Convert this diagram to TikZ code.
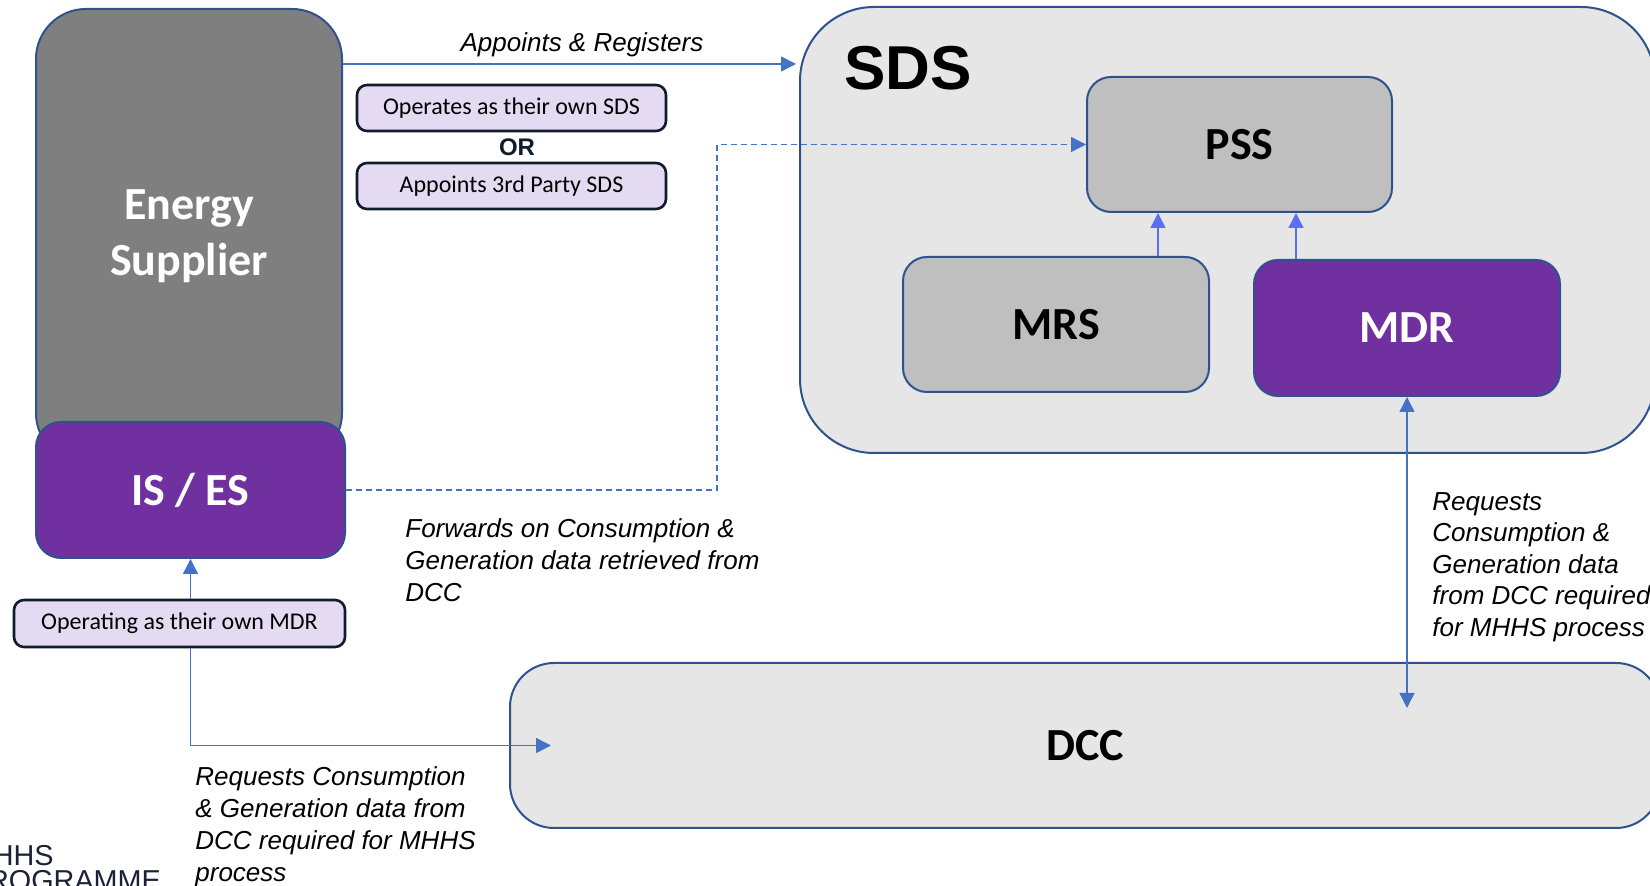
\documentclass[tikz,border=0pt]{standalone}
\usepackage{fontspec}
\setmainfont{Liberation Sans}
\newfontfamily\carlito{Carlito}
\usetikzlibrary{arrows.meta}
\definecolor{edgeblue}{HTML}{2F528F}
\definecolor{linkblue}{HTML}{4472C4}
\definecolor{innerblue}{HTML}{5B6EF5}
\definecolor{esgrey}{HTML}{7F7F7F}
\definecolor{mhhspurple}{HTML}{7030A0}
\definecolor{panelgrey}{HTML}{E6E6E6}
\definecolor{subgrey}{HTML}{BFBFBF}
\definecolor{lavender}{HTML}{E4DBF2}
\definecolor{navy}{HTML}{101B2D}
\definecolor{logonavy}{HTML}{1B2238}
\begin{document}
\begin{tikzpicture}[x=0.5pt,y=-0.5pt,>={Triangle[length=7.5pt,width=7.5pt]}]
		\tikzstyle{every node}+=[inner sep=0pt]
		\tikzstyle{bigbox}=[draw=edgeblue, line width=1pt, font=\carlito\bfseries\fontsize{23}{28}\selectfont, align=center]
		\tikzstyle{choice}=[draw=navy, line width=1.3pt, fill=lavender, rounded corners=5pt, minimum width=154.5pt, minimum height=23pt, font=\carlito\fontsize{12}{14}\selectfont]
		\tikzstyle{note}=[font=\itshape\fontsize{13}{16}\selectfont, align=left]
		\tikzstyle{link}=[draw=linkblue, line width=0.7pt, ->]
		\useasboundingbox (0,0) rectangle (1650,886);
		\fill [white] (0,0) rectangle (1650,886);
		\clip (0,0) rectangle (1650,886);
		% supplier side
		\node [bigbox, fill=esgrey, text=white, rounded corners=25pt, minimum width=153pt, minimum height=227pt] (supplier) at (189,236) {Energy\\Supplier};
		\node [bigbox, fill=mhhspurple, text=white, rounded corners=12.5pt, minimum width=154.5pt, minimum height=68pt] (isEs) at (190.5,490) {IS / ES};
		\node [choice] (ownSds) at (511.5,108) {Operates as their own SDS};
		\node [font=\bfseries\fontsize{12}{14}\selectfont, text=navy] (orText) at (517,147) {OR};
		\node [choice] (thirdSds) at (511.5,186) {Appoints 3rd Party SDS};
		\node [choice, minimum width=165.5pt, minimum height=23.5pt] (ownMdr) at (179.5,623.5) {Operating as their own MDR};
		% SDS panel
		\node [draw=edgeblue, line width=1pt, fill=panelgrey, rounded corners=37pt, minimum width=427.5pt, minimum height=223pt] (sds) at (1227.5,230) {};
		\node [font=\bfseries\fontsize{31}{36}\selectfont, anchor=base] (sdsTitle) at (908,90) {SDS};
		\node [bigbox, fill=subgrey, rounded corners=12pt, minimum width=152.5pt, minimum height=67.5pt] (pss) at (1239.5,144.5) {PSS};
		\node [bigbox, fill=subgrey, rounded corners=12pt, minimum width=153pt, minimum height=67.5pt] (mrs) at (1056,324.5) {MRS};
		\node [bigbox, fill=mhhspurple, text=white, rounded corners=12pt, minimum width=153pt, minimum height=68pt] (mdr) at (1407,328) {MDR};
		\node [bigbox, fill=panelgrey, rounded corners=22pt, minimum width=575pt, minimum height=82.5pt] (dcc) at (1085,745.5) {DCC};
		% links
		\draw [link, shorten >=1.5pt] (supplier.north east) ++(0,56) coordinate (appStart) -- (appStart -| sds.west);
		\node [note, anchor=base] (appNote) at (582,52) {Appoints \& Registers};
		\draw [link, dash pattern=on 3pt off 2pt] (isEs.east) -- ++(371,0) |- (pss.west);
		\coordinate (mrsTop) at ([xshift=51pt]mrs.north);
		\coordinate (mdrTop) at ([xshift=-55.5pt]mdr.north);
		\draw [link, draw=innerblue] (mrsTop) -- (mrsTop |- pss.south);
		\draw [link, draw=innerblue] (mdrTop) -- (mdrTop |- pss.south);
		\coordinate (dccTap) at (1407,708);
		\draw [link, <->] (mdr.south) -- (dccTap);
		\draw [link] (isEs.south |- ownMdr.north) -- (isEs.south);
		\coordinate (dccEntry) at ([xshift=21pt]dcc.west);
		\draw [link] (isEs.south |- ownMdr.south) |- (dccEntry);
		\node [note, anchor=north west] (fwdNote) at (405,518) {Forwards on Consumption \&\\Generation data retrieved from\\DCC};
		\node [note, anchor=north west, font=\itshape\fontsize{13}{15.75}\selectfont] (mdrNote) at (1432,492) {Requests\\Consumption \&\\Generation data\\from DCC required\\for MHHS process};
		\node [note, anchor=north west] (dccNote) at (195,766) {Requests Consumption\\\& Generation data from\\DCC required for MHHS\\process};
		% logo
		\node [font=\fontsize{14.4}{17}\selectfont, text=logonavy, anchor=base west] (logoTop) at (-31.5,866) {MHHS};
		\node [font=\fontsize{14.4}{17}\selectfont, text=logonavy, anchor=base west] (logoBottom) at (-31.5,891) {PROGRAMME};
	\end{tikzpicture}
\end{document}
